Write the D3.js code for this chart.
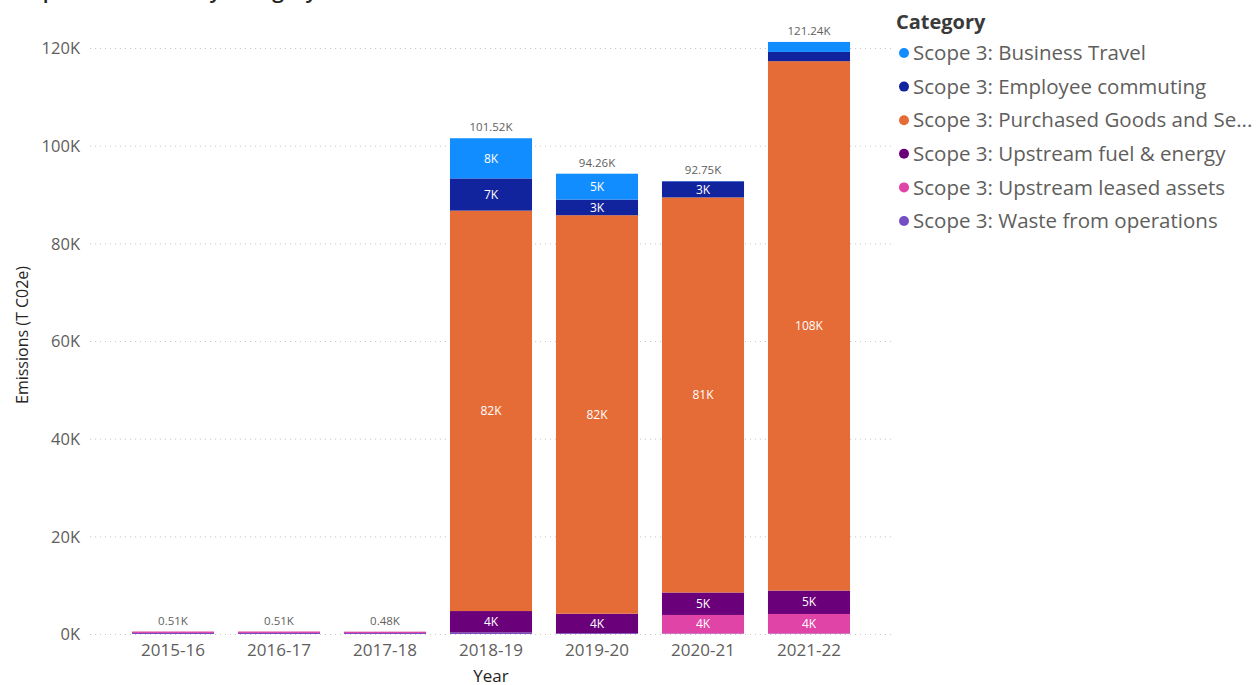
<!DOCTYPE html>
<html>
<head>
<meta charset="utf-8">
<script src="https://cdn.jsdelivr.net/npm/d3@7"></script>
<style>
  html, body { margin: 0; padding: 0; background: #fff; }
  svg { display: block; font-family: "Open Sans", "Noto Sans", sans-serif; }
</style>
</head>
<body>
<svg id="chart" width="1259" height="685"></svg>
<script>
// Emissions by financial year, thousands of tonnes CO2e
const years = ["2015-16", "2016-17", "2017-18", "2018-19", "2019-20", "2020-21", "2021-22"];

const categories = [
  "Scope 3: Business Travel",
  "Scope 3: Employee commuting",
  "Scope 3: Purchased Goods and Services",
  "Scope 3: Upstream fuel & energy",
  "Scope 3: Upstream leased assets",
  "Scope 3: Waste from operations"
];

const colors = ["#118DFF", "#12239E", "#E66C37", "#6B007B", "#E044A7", "#744EC2"];

// one array per category, aligned with years (K t CO2e)
const businessTravel    = [0,    0,    0,    8.22, 5.30, 0.05, 2.04];
const employeeCommuting = [0,    0,    0,    6.60, 3.20, 3.30, 1.90];
const purchasedGoods    = [0,    0,    0,    82.0, 81.6, 80.9, 108.4];
const upstreamFuel      = [0,    0,    0,    4.40, 4.00, 4.60, 4.80];
const upstreamLeased    = [0.30, 0.30, 0.28, 0,    0,    3.80, 4.00];
const wasteOperations   = [0.21, 0.21, 0.20, 0.30, 0.16, 0.10, 0.10];

const yTicks = [0, 20, 40, 60, 80, 100, 120];

const series = [businessTravel, employeeCommuting, purchasedGoods, upstreamFuel, upstreamLeased, wasteOperations];

// stacking order from the bottom up: waste, leased, fuel, purchased, commuting, travel
const stackOrder = [5, 4, 3, 2, 1, 0];

const rows = years.map((y, i) => {
  const r = { year: y };
  categories.forEach((c, k) => { r[c] = series[k][i]; });
  return r;
});

const svg = d3.select("#chart");
const textGray = "#605E5C";
const darkText = "#252423";

const x = d3.scaleBand().domain(years).range([120, 862]).paddingInner(0.226).paddingOuter(0.113);
const y = d3.scaleLinear().domain([0, 120]).range([634, 48]);

// title, mostly above the visible area
svg.append("text")
  .attr("x", 8).attr("y", -2)
  .attr("font-size", 21).attr("font-weight", 600).attr("fill", darkText)
  .text("Scope 3 Emissions by Category");

// gridlines
svg.append("g").selectAll("line").data(yTicks).join("line")
  .attr("x1", 90).attr("x2", 893)
  .attr("y1", d => y(d) + 0.5).attr("y2", d => y(d) + 0.5)
  .attr("stroke", "#C8C6C4").attr("stroke-width", 1).attr("stroke-dasharray", "1,4");

// y axis
const yAxis = d3.axisLeft(y).tickValues(yTicks).tickFormat(d => d + "K").tickSize(0).tickPadding(0);
const gy = svg.append("g").attr("transform", "translate(80,0)").call(yAxis);
gy.select(".domain").remove();
gy.selectAll("text").attr("font-size", 16.5).attr("fill", textGray).attr("font-family", "Open Sans, sans-serif").attr("dy", "0.35em");

svg.append("text")
  .attr("transform", "translate(28,335) rotate(-90)")
  .attr("text-anchor", "middle")
  .attr("font-size", 16).attr("fill", darkText)
  .text("Emissions (T C02e)");

// x axis
const xAxis = d3.axisBottom(x).tickSize(0).tickPadding(0);
const gx = svg.append("g").attr("transform", "translate(0,644)").call(xAxis);
gx.select(".domain").remove();
gx.selectAll("text").attr("font-size", 17).attr("fill", textGray).attr("font-family", "Open Sans, sans-serif").attr("dy", "0.71em");

svg.append("text")
  .attr("x", 491).attr("y", 682)
  .attr("text-anchor", "middle")
  .attr("font-size", 17).attr("fill", darkText)
  .text("Year");

// stacked bars
const stack = d3.stack().keys(stackOrder.map(k => categories[k]));
const stacked = stack(rows);

const layers = svg.append("g").selectAll("g").data(stacked).join("g")
  .attr("fill", d => colors[categories.indexOf(d.key)]);

layers.selectAll("rect").data(d => d.map(v => ({ v, key: d.key }))).join("rect")
  .attr("x", d => x(d.v.data.year))
  .attr("width", x.bandwidth())
  .attr("y", d => y(d.v[1]))
  .attr("height", d => Math.max(0, y(d.v[0]) - y(d.v[1])));

// segment value labels where they fit
const segLabels = svg.append("g");
stacked.forEach(layer => {
  layer.forEach(v => {
    const h = y(v[0]) - y(v[1]);
    if (h >= 14) {
      segLabels.append("text")
        .attr("x", x(v.data.year) + x.bandwidth() / 2)
        .attr("y", (y(v[0]) + y(v[1])) / 2)
        .attr("dy", "0.35em")
        .attr("text-anchor", "middle")
        .attr("font-size", 12).attr("fill", "#FFFFFF")
        .text(d3.format(".0f")(v[1] - v[0]) + "K");
    }
  });
});

// totals above each bar
const totals = rows.map(r => ({ year: r.year, total: d3.sum(categories, c => r[c]) }));
svg.append("g").selectAll("text").data(totals).join("text")
  .attr("x", d => x(d.year) + x.bandwidth() / 2)
  .attr("y", d => y(d.total) - 7)
  .attr("text-anchor", "middle")
  .attr("font-size", 11.5).attr("fill", textGray)
  .text(d => d3.format(".2f")(d.total) + "K");

// legend
const legend = svg.append("g");
legend.append("text")
  .attr("x", 896).attr("y", 29)
  .attr("font-size", 20).attr("font-weight", 700).attr("fill", "#3a3a3a")
  .text("Category");

const maxLegendWidth = 1257 - 913;
categories.forEach((c, i) => {
  const cy = 53 + i * 33.6;
  legend.append("circle").attr("cx", 904).attr("cy", cy).attr("r", 5).attr("fill", colors[i]);
  const t = legend.append("text")
    .attr("x", 913).attr("y", cy).attr("dy", "0.35em")
    .attr("font-size", 20.5).attr("fill", textGray)
    .text(c);
  // shorten long names with an ellipsis
  if (t.node().getComputedTextLength() > maxLegendWidth) {
    let s = c;
    while (s.length > 1) {
      s = s.slice(0, -1);
      t.text(s.trimEnd() + "...");
      if (t.node().getComputedTextLength() <= maxLegendWidth) break;
    }
  }
});
</script>
</body>
</html>
